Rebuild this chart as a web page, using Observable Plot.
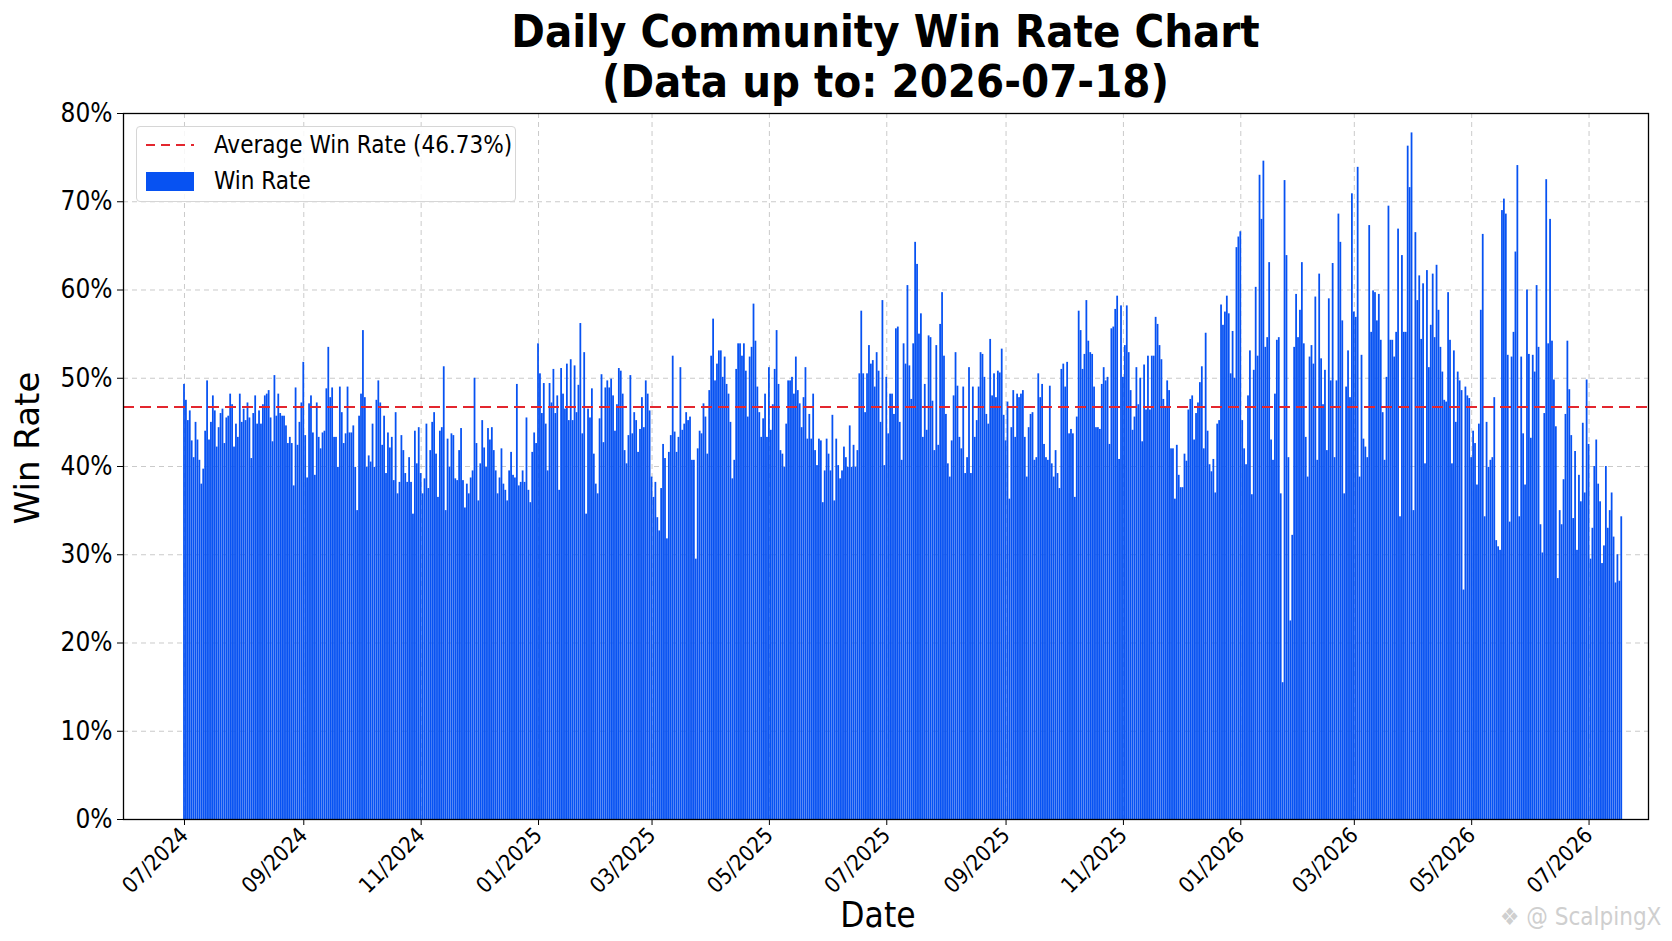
<!DOCTYPE html>
<html>
<head>
<meta charset="utf-8">
<script src="https://cdn.jsdelivr.net/npm/d3@7"></script>
<script src="https://cdn.jsdelivr.net/npm/@observablehq/plot@0.6"></script>
<style>
  html, body { margin: 0; padding: 0; background: #fff; }
  #wrap { position: relative; width: 1672px; height: 941px; overflow: hidden; background: #fff;
          font-family: "DejaVu Sans Condensed", "DejaVu Sans", sans-serif; font-stretch: condensed; color: #000; }
  #chart { position: absolute; left: 0; top: 0; }
  #title { position: absolute; left: 123px; width: 1525px; top: 7px; text-align: center;
           font-weight: bold; font-size: 45px; line-height: 50px; }
  #legend { position: absolute; left: 136px; top: 126px; width: 380px; height: 76px; box-sizing: border-box;
            border: 1px solid #d6d6d6; border-radius: 4px; background: rgba(255,255,255,0.85); font-size: 24px; }
  .row { position: absolute; left: 0; height: 30px; display: flex; align-items: center; white-space: nowrap; }
  .row svg { margin-left: 9px; margin-right: 20px; }
  #ylabel { position: absolute; left: 27px; top: 448px; transform: translate(-50%, -50%) rotate(-90deg);
            font-size: 34px; white-space: nowrap; font-family: "DejaVu Sans", sans-serif; font-stretch: normal; }
  #xlabel { position: absolute; left: 878px; top: 915px; transform: translate(-50%, -50%); font-size: 35px; white-space: nowrap; }
  #wm { position: absolute; left: 1500px; top: 903px; font-size: 24px; color: #cfcfcf; white-space: nowrap; }
</style>
</head>
<body>
<div id="wrap">
  <div id="chart"></div>
  <div id="title"></div>
  <div id="legend">
    <div class="row" style="top:3px"><svg width="48" height="6"><line x1="0" y1="3" x2="48" y2="3" stroke="#e3262e" stroke-width="2" stroke-dasharray="9,6"></line></svg><span id="avgLabel"></span></div>
    <div class="row" style="top:39px"><svg width="48" height="19"><rect x="0" y="0" width="48" height="19" fill="#0752f2"></rect></svg><span id="barLabel"></span></div>
  </div>
  <div id="ylabel"></div>
  <div id="xlabel"></div>
  <div id="wm"></div>
</div>
<script>
// ---- Data (daily win rate %, consecutive days starting 2024-07-01) ----
const startDate = "2024-07-01";
const dataUpTo = "2026-07-18";
const avgRate = 46.73;

const rates2024JulAug = [49.3, 47.5, 45.2, 46.3, 42.9, 41, 45, 43, 40.7, 38, 39.7, 44, 49.7, 43, 45, 48, 46.3, 42.2, 44.4, 46, 46.5, 42.6, 45.5, 45.7, 48.2, 47, 42.2, 44.8, 43.3, 48.2, 45, 46.5, 45.2, 47.2, 45.5, 40.9, 46, 48, 44.8, 46.3, 44.8, 47, 48, 48.2, 48.6, 45.5, 42.8, 50.3, 45.7, 48.2, 46];
const rates2024AugOct = [45.7, 45.7, 44.6, 42.6, 43.3, 42.6, 37.8, 48.9, 42.4, 45, 47.2, 51.8, 43.5, 38.7, 47.1, 48, 43.8, 39, 47.2, 43.3, 42, 43.8, 44, 48.8, 53.5, 47.8, 48.9, 43.3, 43.3, 39.9, 49, 46.1, 42.6, 43.7, 49, 43.8, 43.8, 44.6, 39.9, 35, 45.7, 48.2, 55.4, 47.8, 39.9, 41.2, 40.5, 44.8, 39.9, 47.5, 49.7, 47.2, 42.4, 45.7, 39.2, 43.8, 42.1, 43.3, 38.4, 46.1, 36.9];
const rates2024OctDec = [38.2, 43.5, 41.8, 39.2, 38.2, 41, 38.2, 34.6, 44, 40.3, 44.4, 39.2, 36.9, 38.6, 44.8, 37.5, 41.8, 45, 46.1, 41.4, 36.5, 44, 44.4, 51.3, 35, 43.1, 39.9, 43.7, 43.5, 38.6, 38.4, 41.8, 44.3, 38.4, 35.3, 38, 36.9, 38.7, 39.5, 50, 42.6, 36.1, 40.3, 45.2, 42.1, 39.9, 44.3, 43, 44.4, 41.8, 39.5, 36.9, 38.7, 42, 38, 37.3, 36.1, 39.5, 41.6];
const rates2024DecFeb = [39, 38.7, 49.3, 37.8, 38.2, 39.5, 38.2, 45.5, 37.3, 35.9, 41.6, 43.8, 42.6, 53.9, 50.5, 46, 49.4, 44.8, 39.5, 49.4, 47.2, 51, 46, 48, 37.3, 51.1, 48.2, 46.5, 51.6, 45.2, 52.1, 45.2, 51.4, 46.1, 49.2, 56.2, 43.7, 52.9, 34.6, 46.5, 45.5, 48.8, 41.4, 38, 36.9, 45.4, 50.4, 42.7, 48.9, 49.7, 48.9, 49.9, 48, 44, 47, 51.1, 50.8, 48.2, 41.8, 40.3];
const rates2025FebNov = [
  43.5, 50.3, 43.7, 46.1, 45.2, 41.6, 44.2, 47.8, 44.4, 49.7,
  48.2, 46.3, 38.8, 36.5, 38.2, 34.2, 32.7, 37.5, 42.5, 40.9,
  31.8, 41.6, 43.5, 52.5, 43.9, 41.6, 43.3, 51.2, 44.1, 44.8,
  46.1, 45.2, 45.6, 40.7, 40.7, 29.5, 42, 44, 43.7, 47.1, 45.6,
  41.4, 48.6, 52.5, 56.7, 49.7, 51.6, 53.1, 53.1, 50.1, 52.4,
  49.3, 48.2, 45, 38.6, 40.7, 51, 53.9, 53.9, 52.5, 53.9,
  50.8, 45.6, 52.4, 53.5, 58.4, 54.2, 49, 46.1, 43.3, 45.4,
  48.2, 43.3, 51.2, 44.1, 47, 51, 55.4, 49.3, 41.8, 41.4, 39.9,
  44.8, 49.7, 49.7, 50.1, 48.2, 52.4, 48.6, 47.1, 44.4, 47.8,
  51.2, 43.1, 45.9, 43.1, 48.2, 41.8, 40.1, 43.1, 42.9, 35.9,
  39.5, 43.1, 41.4, 39.5, 45.8, 36.1, 43.1, 40.1, 38.6, 39.5,
  42.2, 41, 39.9, 44.6, 39.9, 42.4, 39.9, 41.8, 50.5, 57.6, 50.5,
  46.1, 50.5, 53.7, 51.6, 52, 49, 52.9, 50.8, 45, 58.8,
  40.1, 50.1, 43.7, 48.2, 48.2, 45.9, 55.6, 55.8, 45, 40.7,
  53.9, 51.6, 60.5, 51.4, 47.6, 53.9, 65.4, 62.9, 55, 57.3, 43.3,
  49.3, 44.1, 54.8, 54.6, 47.4, 41.8, 53.7, 42.4, 56.1, 59.7,
  52.5, 45.9, 40.3, 38.8, 42.9, 48, 52.9, 49.1, 43.3, 42,
  49, 39.2, 41, 51.2, 39.2, 49, 43.3, 45.2, 49, 52.9,
  52.7, 50.1, 45.9, 44.8, 54.4, 48, 50.5, 47.8, 50.8, 50.6, 53.3,
  45.8, 42.9, 47.3, 36.3, 44.4, 48.6, 43.3, 48.2, 47.8, 48.2,
  48.6, 43.3, 38.8, 44.4, 45.9, 46.1, 40.7, 41, 50.5, 47.8,
  49.3, 42.5, 41, 40.7, 49.1, 40.3, 38.8, 41.8, 39.2, 37.5,
  51, 51.6, 49, 51.8, 43.7, 44.2, 43.7, 36.5, 45.6, 57.6, 55.4,
  51, 52.7, 58.8, 54.2, 52.9, 52.7, 49, 44.4, 44.4, 44.2,
  49.3, 51.2, 49.7, 50.1, 42.5, 55.6, 55.8, 57.8, 59.3, 40.8,
  58.2, 50.1, 53.7, 58.2, 52.9, 48.6, 44.1, 45.6, 51.2, 47
];
const rates2025NovJan = [50, 42.8, 51.5, 46.4, 52.5, 46.4, 52.5, 52.5, 56.9, 56.1, 53.7, 52.1, 47.6, 46.8, 49.7, 48.6, 42, 42, 36.3, 42.4, 39, 37.6, 37.6, 41.4, 40.6, 46.4, 47.6, 48, 43, 46, 47.2, 49.5, 51.3, 42, 55.1, 44, 40.2, 39.4, 40.8, 37, 44.8, 45.2, 58.3, 56, 57.5, 59.3, 57.3, 50.5, 55.3, 50, 64.8, 66, 66.6, 45.2, 42, 40.2, 48, 53.1, 36.8, 50.9, 60.3, 52.5, 73, 68, 74.6];
const rates2026JanMar = [53.5, 54.6, 63.1, 43, 40.7, 48.2, 54.3, 54.6, 36.9, 15.5, 72.4, 63.9, 41, 22.5, 32.2, 53.5, 59.5, 54.6, 57.7, 63.1, 53.9, 43.3, 38.8, 52.4, 53.7, 51.6, 59.2, 40.7, 61.8, 52.2, 47, 50.9, 41.8, 59, 49.7, 63, 41, 49.7, 68.6, 65.4, 56.5, 36.9, 49, 53.1, 47.8, 70.9, 57.5, 56.9, 73.9, 38.8, 52.6, 43.1, 42.2, 41, 67.3, 55.2, 59.9, 59.7, 56.5, 59.5, 54.3, 46.1, 40.7, 50.1, 69.5, 54.3];
const rates2026MarMay = [54.3, 52.4, 55.2, 66.9, 34.3, 63.9, 55.2, 55.2, 76.3, 71.6, 77.8, 35, 66.5, 58.8, 61.6, 54.4, 60.7, 40.3, 62.2, 51.2, 56, 61.8, 54.6, 62.8, 57.7, 53.5, 50.7, 47.5, 47.3, 59.7, 54.3, 40.3, 53.1, 45, 50.7, 49.7, 48.6, 26, 49, 48, 47.7, 41, 44, 42.6, 37.9, 44.8, 57.7, 66.3, 34.3, 45, 39.9, 40.7, 41, 47.8, 31.6, 30.9, 30.5, 69, 70.3, 68.6, 52.6, 33.7, 52.4, 55.2, 64.3, 74.1, 34.3];
const rates2026MayJul = [52.4, 43.7, 37.9, 60, 52.7, 43.2, 52.6, 50.7, 60.5, 53.5, 33.4, 30.2, 46, 72.5, 53.9, 68, 54.2, 49.8, 44.5, 27.3, 35, 33.4, 38.5, 45.9, 54.2, 48.7, 43.5, 34.1, 41.7, 30.5, 39, 36, 44.9, 37, 49.8, 42.5, 29.5, 33, 40, 43, 38, 36, 29, 31, 40, 33, 35, 37, 32, 26.8, 30, 27, 34.3];

const yTicks = [0, 10, 20, 30, 40, 50, 60, 70, 80];
const xTickLabels = ["07/2024", "09/2024", "11/2024", "01/2025", "03/2025", "05/2025", "07/2025", "09/2025", "11/2025", "01/2026", "03/2026", "05/2026", "07/2026"];

// ---- Build table ----
const DAY = 864e5;
const rates = [].concat(rates2024JulAug, rates2024AugOct, rates2024OctDec, rates2024DecFeb,
  rates2025FebNov, rates2025NovJan, rates2026JanMar, rates2026MarMay, rates2026MayJul);
const t0 = Date.parse(startDate + "T00:00:00Z");
const data = rates.map((v, i) => ({ date: new Date(t0 + i * DAY), rate: v }));
const xTicks = xTickLabels.map(s => new Date(Date.UTC(+s.slice(3), +s.slice(0, 2) - 1, 1)));
const tickFmt = d => xTickLabels[xTicks.findIndex(t => +t === +d)];

const xDomain = [new Date(t0 - 31.7 * DAY), new Date(t0 + 760.9 * DAY)];

const chart = Plot.plot({
  width: 1672,
  height: 941,
  marginTop: 113,
  marginBottom: 122,
  marginLeft: 123,
  marginRight: 24,
  style: { fontFamily: '"DejaVu Sans Condensed", "DejaVu Sans", sans-serif', background: "transparent", color: "#000", overflow: "visible" },
  x: { type: "utc", domain: xDomain },
  y: { domain: [0, 80] },
  marks: [
    Plot.gridY(yTicks, { stroke: "#bdbdbd", strokeOpacity: 0.8, strokeDasharray: "5,4", strokeWidth: 1 }),
    Plot.gridX(xTicks, { stroke: "#bdbdbd", strokeOpacity: 0.8, strokeDasharray: "5,4", strokeWidth: 1 }),
    Plot.rect(data, {
      x1: d => new Date(+d.date - 0.46 * DAY),
      x2: d => new Date(+d.date + 0.46 * DAY),
      y1: 0,
      y2: "rate",
      fill: "#0752f2"
    }),
    Plot.ruleY([avgRate], { stroke: "#e3262e", strokeWidth: 2, strokeDasharray: "11,6" }),
    Plot.frame({ stroke: "#000", strokeWidth: 1.3 }),
    Plot.axisY(yTicks, { tickFormat: d => d + "%", fontSize: 26, tickSize: 6, tickPadding: 5, label: null }),
    Plot.axisX(xTicks, { tickFormat: tickFmt, tickRotate: -45, fontSize: 22, tickSize: 6, tickPadding: 6, label: null })
  ]
});
document.getElementById("chart").appendChild(chart);

document.getElementById("title").innerHTML = "Daily Community Win Rate Chart<br>(Data up to: " + dataUpTo + ")";
document.getElementById("avgLabel").textContent = "Average Win Rate (" + avgRate.toFixed(2) + "%)";
document.getElementById("barLabel").textContent = "Win Rate";
document.getElementById("ylabel").textContent = "Win Rate";
document.getElementById("xlabel").textContent = "Date";
document.getElementById("wm").textContent = "\u2756 @ ScalpingX";
</script>
</body>
</html>
